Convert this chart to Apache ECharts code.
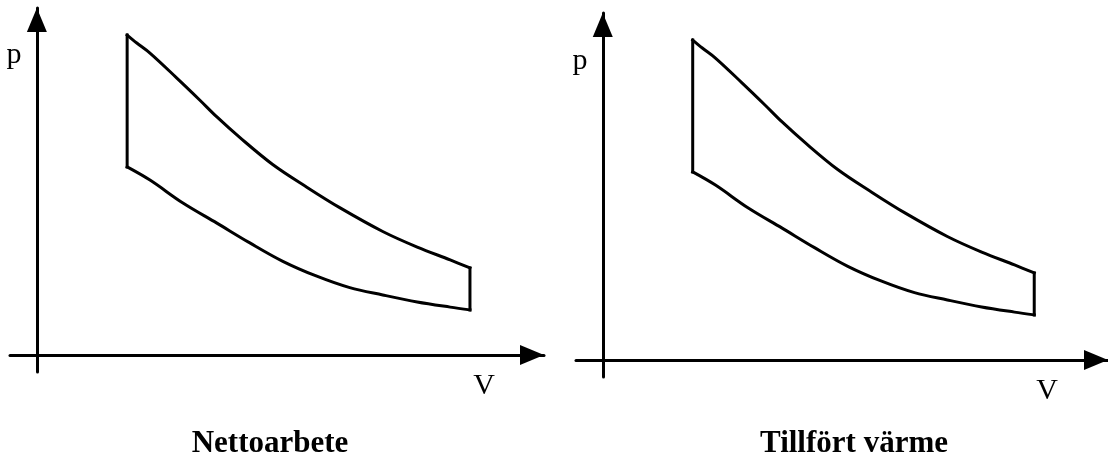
<!DOCTYPE html>
<html>
<head>
<meta charset="utf-8">
<script src="https://cdn.jsdelivr.net/npm/echarts@6/dist/echarts.min.js"></script>
<style>
  html, body { margin: 0; padding: 0; background: #fff; }
  #chart { width: 1108px; height: 462px; }
</style>
</head>
<body>
<div id="chart"></div>
<script>
  // expansion stroke (upper curve)
  const upperV = [1.78, 1.97, 2.23, 2.76, 3.21, 3.55, 4.00, 4.65, 5.33, 5.98, 6.82, 7.50, 8.15, 8.54];
  const upperP = [9.22, 8.99, 8.70, 7.98, 7.35, 6.86, 6.27, 5.49, 4.83, 4.24, 3.56, 3.11, 2.74, 2.51];
  // compression stroke (lower curve)
  const lowerV = [1.78, 2.23, 2.88, 3.55, 4.20, 4.85, 5.52, 6.17, 6.82, 7.50, 8.15, 8.54];
  const lowerP = [5.42, 5.04, 4.38, 3.80, 3.23, 2.70, 2.27, 1.94, 1.73, 1.53, 1.38, 1.30];

  const panelTitles = ['Nettoarbete', 'Tillfört värme'];
  const axisNames = ['p', 'V'];

  function pairs(xs, ys) {
    let out = [];
    for (let i = 0; i < xs.length; i++) out.push([xs[i], ys[i]]);
    return out;
  }

  const chart = echarts.init(document.getElementById('chart'));

  const grids = [
    { left: 10, top: 8, width: 534, height: 364 },
    { left: 576, top: 13, width: 534, height: 364 }
  ];

  function axisLine() {
    return {
      onZero: true,
      symbol: ['none', 'triangle'],
      symbolSize: [20, 24],
      symbolOffset: [0, -12],
      lineStyle: { color: '#000', width: 3 }
    };
  }

  let xAxes = [], yAxes = [], series = [], texts = [];
  const n = upperV.length - 1, m = lowerV.length - 1;
  const strokes = [
    { data: pairs(upperV, upperP), smooth: 0.35 },
    { data: pairs(lowerV, lowerP), smooth: 0.35 },
    // isochoric strokes at the two ends
    { data: [[lowerV[0], lowerP[0]], [upperV[0], upperP[0]]], smooth: false },
    { data: [[upperV[n], upperP[n]], [lowerV[m], lowerP[m]]], smooth: false }
  ];

  grids.forEach((g, i) => {
    xAxes.push({
      type: 'value', gridIndex: i, min: -0.53, max: 10,
      axisLine: axisLine(),
      axisTick: { show: false }, axisLabel: { show: false }, splitLine: { show: false }
    });
    yAxes.push({
      type: 'value', gridIndex: i, min: -0.49, max: 10,
      axisLine: axisLine(),
      axisTick: { show: false }, axisLabel: { show: false }, splitLine: { show: false }
    });
    strokes.forEach(s => {
      series.push({
        type: 'line', xAxisIndex: i, yAxisIndex: i,
        data: s.data, smooth: s.smooth, symbol: 'none', silent: true,
        lineStyle: { color: '#000', width: 3, cap: 'square', join: 'round' }
      });
    });
  });

  const font = '"Liberation Serif", "DejaVu Serif", serif';
  const labelPos = [
    { p: [14, 55], v: [484, 386], t: [270, 444] },
    { p: [580, 61], v: [1047, 391], t: [854, 444] }
  ];
  labelPos.forEach((lp, i) => {
    texts.push({ type: 'text', x: lp.p[0], y: lp.p[1],
      style: { text: axisNames[0], font: '30px ' + font, fill: '#000', align: 'center', verticalAlign: 'middle' } });
    texts.push({ type: 'text', x: lp.v[0], y: lp.v[1],
      style: { text: axisNames[1], font: '30px ' + font, fill: '#000', align: 'center', verticalAlign: 'middle' } });
    texts.push({ type: 'text', x: lp.t[0], y: lp.t[1],
      style: { text: panelTitles[i], font: 'bold 31px ' + font, fill: '#000', align: 'center', verticalAlign: 'middle' } });
  });

  chart.setOption({
    animation: false,
    backgroundColor: '#fff',
    grid: grids,
    xAxis: xAxes,
    yAxis: yAxes,
    series: series,
    graphic: texts
  });
</script>
</body>
</html>
